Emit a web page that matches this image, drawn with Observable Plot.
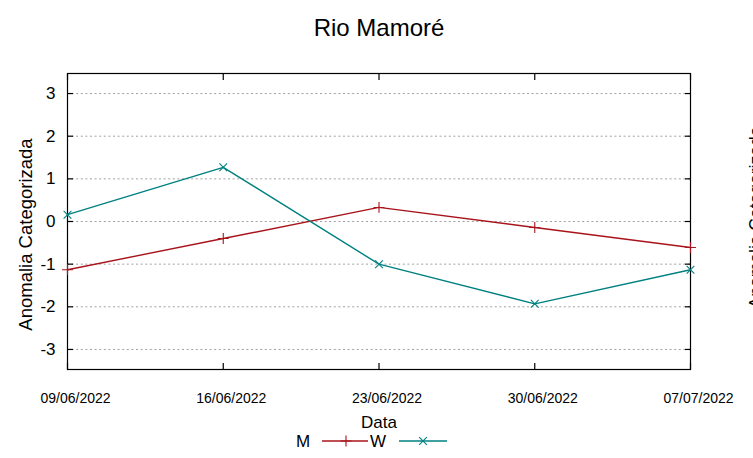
<!DOCTYPE html>
<html>
<head>
<meta charset="utf-8">
<script src="https://cdn.jsdelivr.net/npm/d3@7"></script>
<script src="https://cdn.jsdelivr.net/npm/@observablehq/plot@0.6"></script>
<style>
  html, body { margin: 0; padding: 0; background: #fff; }
  svg { font-family: "Liberation Sans", Arial, sans-serif; }
</style>
</head>
<body>
<div id="chart"></div>
<script>
const title = "Rio Mamoré";
const dates = ["09/06/2022", "16/06/2022", "23/06/2022", "30/06/2022", "07/07/2022"];
const seriesM = [-1.13, -0.40, 0.33, -0.14, -0.61];
const seriesW = [0.16, 1.27, -1.00, -1.93, -1.13];
const yTicks = [-3, -2, -1, 0, 1, 2, 3];
const colorM = "#a8141b";
const colorW = "#008080";

const parse = d3.utcParse("%d/%m/%Y");
const fmt = d3.utcFormat("%d/%m/%Y");
const xDates = dates.map(parse);
const data = [
  ...dates.map((d, i) => ({date: xDates[i], value: seriesM[i], series: "M"})),
  ...dates.map((d, i) => ({date: xDates[i], value: seriesW[i], series: "W"}))
];
const dataM = data.filter(d => d.series === "M");
const dataW = data.filter(d => d.series === "W");

const W = 753, H = 458;
const mL = 67, mR = 63, mT = 73, mB = 89;

const chart = Plot.plot({
  width: W,
  height: H,
  marginLeft: mL,
  marginRight: mR,
  marginTop: mT,
  marginBottom: mB,
  style: {fontFamily: "Liberation Sans, Arial, sans-serif", background: "#fff", overflow: "visible"},
  x: {type: "utc", domain: [xDates[0], xDates[xDates.length - 1]], axis: null},
  y: {domain: [-3.47, 3.47], axis: null},
  marks: [
    Plot.gridY(yTicks, {stroke: "#a0a0a0", strokeOpacity: 1, strokeDasharray: "2,2.6", strokeWidth: 1}),
    // inward tick marks on all four borders
    Plot.axisY(yTicks, {anchor: "left", tickSize: -6, tickFormat: () => "", label: null, stroke: "#000", strokeWidth: 1.2}),
    Plot.axisY(yTicks, {anchor: "right", tickSize: -6, tickFormat: () => "", label: null, stroke: "#000", strokeWidth: 1.2}),
    Plot.axisX(xDates, {anchor: "bottom", tickSize: -6, tickFormat: () => "", label: null, stroke: "#000", strokeWidth: 1.2}),
    Plot.axisX(xDates, {anchor: "top", tickSize: -6, tickFormat: () => "", label: null, stroke: "#000", strokeWidth: 1.2}),
    // labels
    Plot.axisY(yTicks, {anchor: "left", tickSize: 0, tickPadding: 12, fontSize: 17, fill: "#000", label: null, tickFormat: d => String(d)}),
    Plot.axisX(xDates, {anchor: "bottom", tickSize: 0, tickPadding: 24, dx: 8, fontSize: 14, fill: "#000", label: null, tickFormat: fmt}),
    Plot.frame({stroke: "#000", strokeWidth: 1.2}),
    Plot.line(dataM, {x: "date", y: "value", stroke: colorM, strokeWidth: 1.4}),
    Plot.line(dataW, {x: "date", y: "value", stroke: colorW, strokeWidth: 1.4}),
    Plot.dot(dataM, {x: "date", y: "value", symbol: "plus", stroke: colorM, r: 3.6, strokeWidth: 1.1}),
    Plot.dot(dataW, {x: "date", y: "value", symbol: "times", stroke: colorW, r: 3.6, strokeWidth: 1.1}),
    Plot.text([title], {frameAnchor: "top", dy: -45, lineAnchor: "middle", fontSize: 24, fill: "#000"}),
    Plot.text(["Data"], {frameAnchor: "bottom", dy: 53, lineAnchor: "middle", fontSize: 17, fill: "#000"}),
    Plot.text(["Anomalia Categorizada"], {frameAnchor: "left", textAnchor: "middle", dx: -41, dy: 13, rotate: -90, lineAnchor: "middle", fontSize: 18.5, fill: "#000"}),
    Plot.text(["Anomalia Categorizada"], {frameAnchor: "right", textAnchor: "middle", dx: 66, dy: -4, rotate: -90, lineAnchor: "middle", fontSize: 17.5, fill: "#000"})
  ]
});

document.getElementById("chart").appendChild(chart);

// legend below the frame
const svg = d3.select(chart);
const cx = (mL + (W - mR)) / 2;
const ly = H - mB + 72;
const legend = svg.append("g").attr("font-size", 17).attr("font-family", "Liberation Sans, Arial, sans-serif");
const items = [
  {label: "M", color: colorM, symbol: d3.symbolPlus, off: -75.5, l0: 19, l1: 65, s: 43},
  {label: "W", color: colorW, symbol: d3.symbolTimes, off: -0.5, l0: 21, l1: 69, s: 45}
];
for (const it of items) {
  legend.append("text").attr("x", cx + it.off).attr("y", ly).attr("dy", "0.35em")
    .attr("text-anchor", "middle").attr("fill", "#000").text(it.label);
  legend.append("line")
    .attr("x1", cx + it.off + it.l0).attr("x2", cx + it.off + it.l1)
    .attr("y1", ly).attr("y2", ly)
    .attr("stroke", it.color).attr("stroke-width", 1.4);
  legend.append("path")
    .attr("transform", `translate(${cx + it.off + it.s},${ly})`)
    .attr("d", d3.symbol(it.symbol, 40)())
    .attr("fill", "none").attr("stroke", it.color).attr("stroke-width", 1.1);
}
</script>
</body>
</html>
